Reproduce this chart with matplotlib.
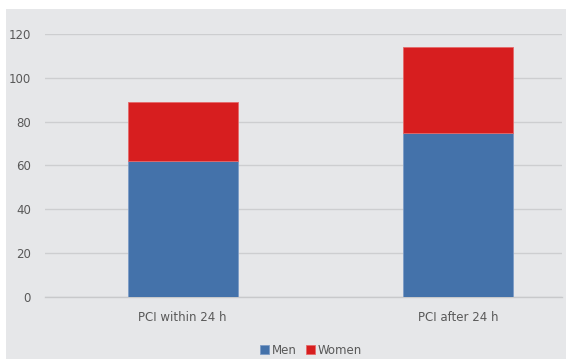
#!/usr/bin/env python3
# -*- coding: utf-8 -*-

import matplotlib
matplotlib.use("Agg")
import matplotlib.pyplot as plt

# Data
categories = ["PCI within 24 h", "PCI after 24 h"]
men = [62, 75]
women = [27, 39]
y_ticks = [0, 20, 40, 60, 80, 100, 120]

W, H = 566, 359
fig = plt.figure(figsize=(W / 100, H / 100), dpi=100)
fig.patch.set_facecolor("white")

# gray chart background panel (its own axes, drawn underneath)
bg = fig.add_axes([6 / W, 0, (W - 6) / W, (H - 9) / H], zorder=-1)
bg.set_axis_off()
bg.add_patch(plt.Rectangle((0, 0), 1, 1, transform=bg.transAxes,
                           facecolor="#e6e7e9", edgecolor="none"))

# axes: x 45..562 px, y from 297 (0) to 34 (120)
ax = fig.add_axes([45 / W, (H - 297) / H, (562 - 45) / W, (297 - 34) / H])
ax.set_facecolor("none")

x = list(range(len(categories)))
ax.bar(x, men, width=0.4, color="#4472aa", edgecolor="#7d9cc6", linewidth=0.6,
       label="Men", zorder=3)
ax.bar(x, women, width=0.4, bottom=men, color="#d71e1f", edgecolor="#e46a6a",
       linewidth=0.6, label="Women", zorder=3)

ax.set_xlim(-0.5, (562 - 183) / 275)
ax.set_ylim(0, 120)
ax.set_yticks(y_ticks)
ax.set_xticks(x)
ax.set_xticklabels(categories)
ax.yaxis.grid(True, color="#cdced0", linewidth=1.0, zorder=0)
ax.set_axisbelow(True)
for s in ["top", "right", "left"]:
    ax.spines[s].set_visible(False)
ax.spines["bottom"].set_color("#c8c9cb")
ax.spines["bottom"].set_linewidth(1.0)
ax.tick_params(axis="both", length=0, colors="#595959", labelsize=8.5)
ax.tick_params(axis="y", pad=10)
ax.tick_params(axis="x", pad=10)

fig.legend(loc="center", bbox_to_anchor=(311 / W, 1 - 350 / H), ncol=2,
           frameon=False, fontsize=8.5, labelcolor="#595959",
           handlelength=0.8, handleheight=0.8, handletextpad=0.2,
           columnspacing=0.8)

fig.savefig("out.png", dpi=100, facecolor=fig.get_facecolor())
